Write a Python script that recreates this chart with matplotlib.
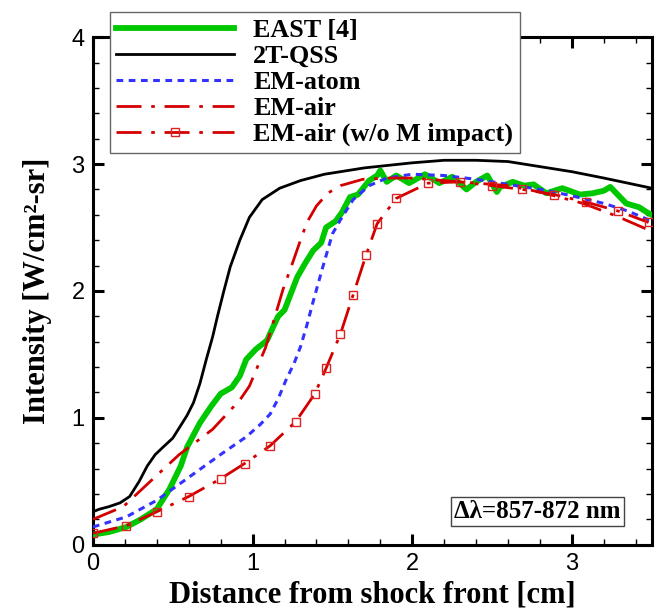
# -*- coding: utf-8 -*-
# Radiative intensity behind the shock front, EAST data vs. models

import numpy as np
from matplotlib import pyplot as plt
from matplotlib.ticker import MultipleLocator

# Data
# ========================================
east_x = [0.00, 0.10, 0.21, 0.30, 0.40, 0.48, 0.55, 0.59, 0.67, 0.74, 0.80,
          0.87, 0.92, 0.96, 1.02, 1.09, 1.13, 1.16, 1.20, 1.24, 1.28, 1.33,
          1.38, 1.43, 1.46, 1.52, 1.56, 1.61, 1.66, 1.73, 1.78, 1.80, 1.84,
          1.90, 1.98, 2.08, 2.17, 2.25, 2.34, 2.40, 2.47, 2.53, 2.55, 2.63,
          2.70, 2.76, 2.84, 2.94, 3.05, 3.13, 3.20, 3.24, 3.34, 3.42, 3.47,
          3.50]
east_y = [0.08, 0.10, 0.14, 0.20, 0.28, 0.44, 0.62, 0.77, 0.96, 1.09, 1.19,
          1.24, 1.33, 1.46, 1.54, 1.61, 1.72, 1.80, 1.85, 1.98, 2.11, 2.22,
          2.32, 2.38, 2.50, 2.55, 2.62, 2.74, 2.76, 2.87, 2.91, 2.95, 2.86,
          2.91, 2.85, 2.92, 2.85, 2.90, 2.80, 2.86, 2.91, 2.78, 2.82, 2.86,
          2.83, 2.84, 2.77, 2.81, 2.76, 2.77, 2.79, 2.82, 2.69, 2.66, 2.62,
          2.60]

qss_x = [0.00, 0.04, 0.10, 0.17, 0.23, 0.29, 0.34, 0.39, 0.44, 0.50, 0.545,
         0.59, 0.63, 0.67, 0.71, 0.75, 0.78, 0.82, 0.86, 0.92, 0.98, 1.06,
         1.17, 1.30, 1.45, 1.70, 2.00, 2.20, 2.40, 2.60, 2.80, 3.00, 3.20,
         3.35, 3.50]
qss_y = [0.26, 0.28, 0.30, 0.33, 0.38, 0.50, 0.62, 0.71, 0.77, 0.84, 0.93,
         1.02, 1.12, 1.27, 1.46, 1.64, 1.80, 2.00, 2.19, 2.40, 2.58, 2.72,
         2.81, 2.87, 2.92, 2.97, 3.01, 3.03, 3.03, 3.02, 2.98, 2.94, 2.89,
         2.85, 2.81]

atom_x = [0.00, 0.21, 0.40, 0.61, 0.81, 0.96, 1.05, 1.11, 1.16, 1.21, 1.26,
          1.30, 1.34, 1.38, 1.44, 1.50, 1.55, 1.63, 1.73, 1.84, 2.00, 2.20,
          2.40, 2.65, 2.85, 3.00, 3.20, 3.35, 3.50]
atom_y = [0.14, 0.22, 0.35, 0.54, 0.72, 0.85, 0.95, 1.03, 1.15, 1.30, 1.43,
          1.56, 1.73, 1.92, 2.19, 2.45, 2.56, 2.72, 2.83, 2.89, 2.92, 2.91,
          2.88, 2.83, 2.79, 2.75, 2.69, 2.63, 2.55]

air_x = [0.00, 0.19, 0.36, 0.54, 0.75, 0.92, 0.98, 1.03, 1.08, 1.11, 1.15,
         1.19, 1.25, 1.30, 1.34, 1.40, 1.47, 1.55, 1.69, 1.86, 2.00, 2.30,
         2.60, 2.80, 3.07, 3.28, 3.50]
air_y = [0.20, 0.30, 0.50, 0.71, 0.91, 1.14, 1.25, 1.40, 1.55, 1.67, 1.84,
         2.01, 2.22, 2.40, 2.54, 2.67, 2.77, 2.83, 2.88, 2.89, 2.89, 2.86,
         2.83, 2.78, 2.69, 2.59, 2.47]

noM_x = [0.00, 0.21, 0.40, 0.60, 0.80, 0.95, 1.11, 1.27, 1.39, 1.46, 1.55,
         1.63, 1.71, 1.78, 1.90, 2.10, 2.30, 2.50, 2.69, 2.89, 3.09, 3.29,
         3.48]
noM_y = [0.09, 0.15, 0.26, 0.38, 0.52, 0.64, 0.78, 0.97, 1.19, 1.39, 1.66,
         1.97, 2.28, 2.53, 2.73, 2.85, 2.86, 2.83, 2.80, 2.76, 2.70, 2.63,
         2.54]

labels = ["EAST [4]", "2T-QSS", "EM-atom", "EM-air", "EM-air (w/o M impact)"]
band_text = u"\u0394\u03bb=857-872 nm"

# Visualization
# ========================================
plt.rcParams['font.family'] = ['Liberation Serif', 'DejaVu Serif']
plt.rcParams['font.weight'] = 'bold'

red = "#d40000"
dashdot = (0, (9, 3.5, 1.3, 3.5))

fig = plt.figure(figsize=(6.59, 6.1), dpi=100)
ax = fig.add_axes([0.141, 0.107, 0.848, 0.832])

ax.plot(east_x, east_y, color="#00c800", lw=4.2, label=labels[0], zorder=3)
ax.plot(qss_x, qss_y, color="black", lw=2.0, label=labels[1], zorder=4)
ax.plot(atom_x, atom_y, color="#3333ff", lw=2.2, ls=(0, (2.2, 1.8)),
        label=labels[2], zorder=4)
ax.plot(air_x, air_y, color=red, lw=2.0, ls=dashdot, label=labels[3],
        zorder=4)
ax.plot(noM_x, noM_y, color=red, lw=2.0, ls=dashdot, marker="s",
        markersize=6, markerfacecolor="none", markeredgecolor="#dd2222",
        markeredgewidth=1.0, label=labels[4], zorder=4)

ax.set_xlim(0, 3.5)
ax.set_ylim(0, 4)
ax.xaxis.set_major_locator(MultipleLocator(1))
ax.xaxis.set_minor_locator(MultipleLocator(0.2))
ax.yaxis.set_major_locator(MultipleLocator(1))
ax.yaxis.set_minor_locator(MultipleLocator(0.2))
ax.tick_params(which="both", direction="in", top=True, right=True)
ax.tick_params(which="major", length=8, width=2.2, pad=6)
ax.tick_params(which="minor", length=4, width=1.0)
for lab in ax.get_xticklabels() + ax.get_yticklabels():
    lab.set_family("Liberation Sans")
    lab.set_fontweight("normal")
    lab.set_fontsize(17)
for sp in ax.spines.values():
    sp.set_linewidth(2.2)

ax.set_xlabel("Distance from shock front [cm]", fontsize=22,
              fontweight="bold", labelpad=4)
ax.set_ylabel(u"Intensity [W/cm\u00b2-sr]", fontsize=22, fontweight="bold",
              labelpad=14)

leg = ax.legend(loc="upper left", bbox_to_anchor=(0.030, 1.049),
                borderaxespad=0, fontsize=18.8, handlelength=4.5,
                handletextpad=0.75, labelspacing=0.1, borderpad=0.25,
                fancybox=False, framealpha=1, edgecolor="#666666")
leg.get_frame().set_linewidth(1.0)
leg.set_zorder(10)

ax.text(0.796, 0.065, band_text, transform=ax.transAxes, fontsize=18,
        fontweight="bold", ha="center", va="center",
        bbox=dict(boxstyle="square,pad=0.12", facecolor="white",
                  edgecolor="#444444", linewidth=1.0))

fig.savefig("out.png", dpi=100)
#plt.show()
